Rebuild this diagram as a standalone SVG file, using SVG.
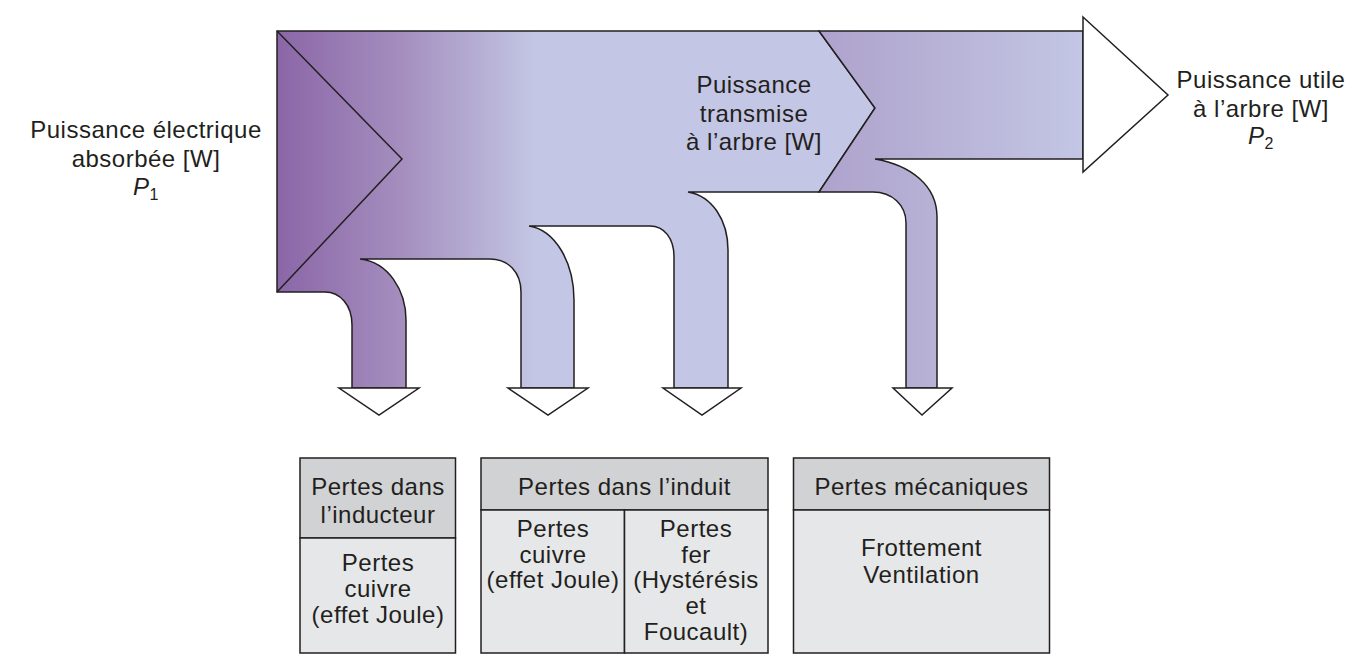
<svg xmlns="http://www.w3.org/2000/svg" width="1370" height="672" viewBox="0 0 1370 672">
<style>
  .band { stroke: #231f20; stroke-width: 1.5; stroke-linejoin: miter; }
  .head { fill: #ffffff; stroke: #231f20; stroke-width: 1.5; stroke-linejoin: miter; }
  .ln { fill: none; stroke: #231f20; stroke-width: 1.5; }
  .t { font-family: "Liberation Sans", Arial, sans-serif; font-size: 24px; letter-spacing: 0.5px; fill: #231f20; text-anchor: middle; }
  .hdr { fill: #d1d2d4; stroke: #231f20; stroke-width: 1.5; }
  .body { fill: #e6e7e8; stroke: #231f20; stroke-width: 1.5; }
</style>
<defs>
  <linearGradient id="g1" gradientUnits="userSpaceOnUse" x1="277" y1="0" x2="535" y2="0">
    <stop offset="0" stop-color="#8b66a7"/>
    <stop offset="0.5" stop-color="#a590bf"/>
    <stop offset="1" stop-color="#c3c6e4"/>
  </linearGradient>
  <linearGradient id="g2" gradientUnits="userSpaceOnUse" x1="819" y1="0" x2="1083" y2="0">
    <stop offset="0" stop-color="#aea2cc"/>
    <stop offset="1" stop-color="#c3c6e4"/>
  </linearGradient>
</defs>
<rect width="1370" height="672" fill="#ffffff"/>

<g id="connectors">
  <path class="band" fill="url(#g1)" d="M277,31 L819,31 L875,108 L819,192 L688,192 C712,196 728,220 728,250 L728,388 L674,388 L674,257 C674,238 664,226 650,226 L529,226 C555,230 574,262 574,300 L574,388 L521,388 L521,292 C521,272 508,259 490,259 L360,259 C388,262 406,290 406,320 L406,388 L352,388 L352,325 C352,305 340,292 325,292 L277,292 Z"/>
  <path class="ln" d="M277,31 L402,159 L277,292"/>
  <path class="band" fill="url(#g2)" d="M819,31 L1083,31 L1083,159 L875,159 C910,165 937,185 937,217 L937,388 L906,388 L906,223 C906,205 892,192 873,192 L819,192 L875,108 Z"/>
  <polygon class="head" points="1083,17 1168,95 1083,172"/>
  <polygon class="head" points="339,388 419,388 379,415"/>
  <polygon class="head" points="508,388 588,388 548,415"/>
  <polygon class="head" points="663,388 741,388 702,415"/>
  <polygon class="head" points="893,388 952,388 922,415"/>
</g>

<g id="label-p1">
  <text class="t" x="146" y="138">Puissance électrique</text>
  <text class="t" x="146" y="167">absorbée [W]</text>
  <text class="t" x="146" y="195"><tspan font-style="italic">P</tspan><tspan font-size="16" dy="5">1</tspan></text>
</g>

<g id="label-transmise">
  <text class="t" x="754" y="93">Puissance</text>
  <text class="t" x="754" y="122">transmise</text>
  <text class="t" x="754" y="150">à l’arbre [W]</text>
</g>

<g id="label-p2">
  <text class="t" x="1261" y="88">Puissance utile</text>
  <text class="t" x="1261" y="117">à l’arbre [W]</text>
  <text class="t" x="1261" y="144"><tspan font-style="italic">P</tspan><tspan font-size="16" dy="5">2</tspan></text>
</g>

<g id="table-inducteur">
  <rect class="hdr" x="300" y="458" width="155.5" height="80"/>
  <rect class="body" x="300" y="538" width="155.5" height="115"/>
  <text class="t" x="378" y="495">Pertes dans</text>
  <text class="t" x="378" y="523">l’inducteur</text>
  <text class="t" x="378" y="571">Pertes</text>
  <text class="t" x="378" y="597">cuivre</text>
  <text class="t" x="378" y="623">(effet Joule)</text>
</g>

<g id="table-induit">
  <rect class="hdr" x="481" y="458" width="287" height="52"/>
  <rect class="body" x="481" y="510" width="143.5" height="143"/>
  <rect class="body" x="624.5" y="510" width="143.5" height="143"/>
  <text class="t" x="624.5" y="495">Pertes dans l’induit</text>
  <text class="t" x="553" y="537">Pertes</text>
  <text class="t" x="553" y="563">cuivre</text>
  <text class="t" x="553" y="588">(effet Joule)</text>
  <text class="t" x="696" y="537">Pertes</text>
  <text class="t" x="696" y="563">fer</text>
  <text class="t" x="696" y="588">(Hystérésis</text>
  <text class="t" x="696" y="614">et</text>
  <text class="t" x="696" y="640">Foucault)</text>
</g>

<g id="table-mecaniques">
  <rect class="hdr" x="793.5" y="458" width="256" height="52"/>
  <rect class="body" x="793.5" y="510" width="256" height="143"/>
  <text class="t" x="921.5" y="495">Pertes mécaniques</text>
  <text class="t" x="921.5" y="556">Frottement</text>
  <text class="t" x="921.5" y="583">Ventilation</text>
</g>
</svg>
